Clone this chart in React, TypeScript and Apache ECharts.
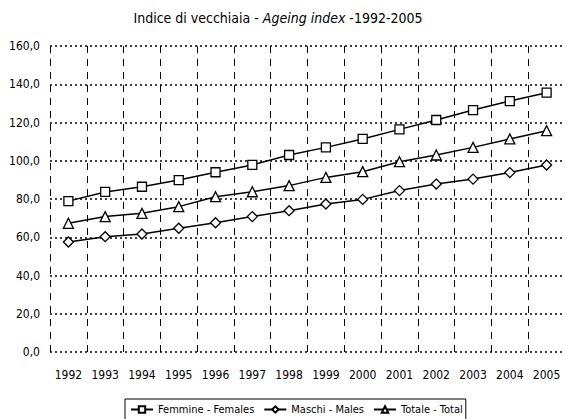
import React, { useEffect, useRef } from "react";
import * as echarts from "echarts";

const years = ["1992","1993","1994","1995","1996","1997","1998","1999","2000","2001","2002","2003","2004","2005"];
const femmine = [78.9, 83.7, 86.4, 89.9, 94.0, 97.8, 103.0, 107.0, 111.4, 116.4, 121.3, 126.5, 131.2, 135.6];
const maschi = [57.5, 60.3, 61.7, 64.7, 67.6, 70.8, 73.9, 77.4, 79.8, 84.4, 87.8, 90.4, 93.8, 97.8];
const totale = [67.3, 70.8, 72.5, 76.0, 81.2, 83.8, 87.0, 91.3, 94.3, 99.5, 103.0, 107.0, 111.4, 115.7];
const seriesNames = ["Femmine - Females", "Maschi - Males", "Totale - Total"];

const FONT = "'DejaVu Sans Condensed', 'Liberation Sans Narrow', 'Liberation Sans', Arial, sans-serif";

export default function App() {
  const ref = useRef<HTMLDivElement>(null);
  useEffect(() => {
    if (!ref.current) return;
    const chart = echarts.init(ref.current, null, { renderer: "svg" });
    const mk = (name: string, data: number[], symbol: string, size: number) => ({
      name,
      type: "line",
      data,
      symbol,
      symbolSize: size,
      showAllSymbol: true,
      lineStyle: { color: "#000", width: 1.5 },
      itemStyle: { color: "#fff", borderColor: "#000", borderWidth: 1.3 },
      z: 3,
    });
    chart.setOption({
      animation: false,
      backgroundColor: "#fff",
      title: {
        text: "Indice di vecchiaia - {i|Ageing index} -1992-2005",
        left: 273,
        textAlign: "center",
        top: 6,
        textStyle: {
          fontFamily: FONT,
          fontSize: 14,
          fontWeight: "normal",
          color: "#000",
          rich: {
            i: { fontFamily: FONT, fontSize: 14, fontStyle: "italic", color: "#000" },
          },
        },
      },
      legend: {
        left: 125,
        top: 399,
        data: seriesNames,
        itemWidth: 22,
        itemHeight: 8,
        itemGap: 9,
        padding: [5, 3, 5, 5],
        borderColor: "#000",
        borderWidth: 1,
        borderRadius: 0,
        textStyle: { fontFamily: FONT, fontSize: 11, color: "#000" },
      },
      grid: { left: 50, top: 46, right: -3, height: 306, containLabel: false },
      xAxis: {
        type: "category",
        data: years,
        boundaryGap: true,
        axisLine: { show: false },
        axisTick: { show: false },
        axisLabel: { margin: 17, fontFamily: FONT, fontSize: 12, color: "#000", interval: 0 },
        splitLine: { show: true, interval: 0, lineStyle: { color: "#000", type: [7, 6], width: 1 } },
      },
      yAxis: {
        type: "value",
        min: 0,
        max: 160,
        interval: 20,
        axisLine: { show: false },
        axisTick: { show: false },
        axisLabel: {
          margin: 10,
          fontFamily: FONT,
          fontSize: 12,
          color: "#000",
          formatter: (v: number) => v.toFixed(1).replace(".", ","),
        },
        splitLine: { show: true, lineStyle: { color: "#000", type: [2, 3], width: 1.5 } },
      },
      series: [
        mk(seriesNames[0], femmine, "rect", 9),
        mk(seriesNames[1], maschi, "diamond", 10),
        mk(seriesNames[2], totale, "triangle", 10),
      ],
    });
    return () => chart.dispose();
  }, []);
  return <div ref={ref} style={{ position: "absolute", left: 0, top: 0, width: 565, height: 419 }} />;
}
